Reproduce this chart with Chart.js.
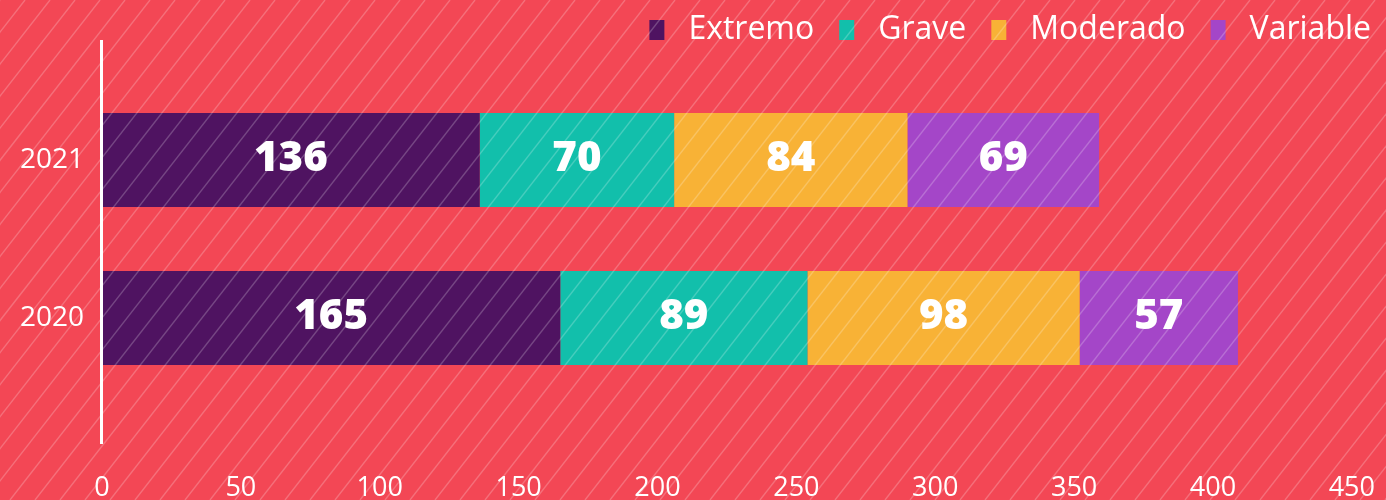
<!DOCTYPE html>
<html>
<head>
<meta charset="utf-8">
<script src="https://cdn.jsdelivr.net/npm/chart.js@4"></script>
<style>
  html, body { margin: 0; padding: 0; background: #f34755; }
  #wrap { width: 1386px; height: 500px; }
</style>
</head>
<body>
<div id="wrap"><canvas id="chart"></canvas></div>
<script>
var years = ['2021', '2020'];
var extremo = [136, 165];
var grave = [70, 89];
var moderado = [84, 98];
var variable = [69, 57];
var seriesNames = ['Extremo', 'Grave', 'Moderado', 'Variable'];
var seriesColors = ['#4f1361', '#12bfab', '#f8b236', '#a446c8'];
var xTicks = [0, 50, 100, 150, 200, 250, 300, 350, 400, 450];

var FONT = "'Open Sans', 'Noto Sans', sans-serif";
var BG = '#f34755';

// red background behind everything
var backgroundPlugin = {
    id: 'bg',
    beforeDraw: function (chart) {
        var ctx = chart.ctx;
        ctx.save();
        ctx.fillStyle = BG;
        ctx.fillRect(0, 0, chart.width, chart.height);
        ctx.restore();
    }
};

// white value labels in the middle of every bar piece
var valueLabels = {
    id: 'valueLabels',
    afterDatasetsDraw: function (chart) {
        var ctx = chart.ctx;
        ctx.save();
        ctx.fillStyle = '#ffffff';
        ctx.font = '800 42px ' + FONT;
        ctx.textAlign = 'center';
        ctx.textBaseline = 'middle';
        chart.data.datasets.forEach(function (ds, di) {
            var meta = chart.getDatasetMeta(di);
            meta.data.forEach(function (bar, i) {
                var cx = (bar.x + bar.base) / 2;
                ctx.fillText(String(ds.data[i]), cx, bar.y - 1);
            });
        });
        ctx.restore();
    }
};

// white vertical axis line, longer than the plot area
var axisLine = {
    id: 'axisLine',
    afterDatasetsDraw: function (chart) {
        var ctx = chart.ctx;
        var x0 = chart.scales.x.getPixelForValue(0);
        ctx.save();
        ctx.strokeStyle = '#ffffff';
        ctx.lineWidth = 3;
        ctx.beginPath();
        ctx.moveTo(x0 - 0.5, chart.chartArea.top - 41);
        ctx.lineTo(x0 - 0.5, chart.chartArea.bottom + 47);
        ctx.stroke();
        ctx.restore();
    }
};

// diagonal light stripes over the whole picture
var stripes = {
    id: 'stripes',
    afterDraw: function (chart) {
        var ctx = chart.ctx;
        var w = chart.width, h = chart.height;
        var step = 25, slope = 0.78;
        ctx.save();
        ctx.strokeStyle = 'rgba(255,255,255,0.22)';
        ctx.lineWidth = 1.4;
        for (var x = -h * slope; x < w + step; x += step) {
            ctx.beginPath();
            ctx.moveTo(x, h);
            ctx.lineTo(x + h * slope, 0);
            ctx.stroke();
        }
        ctx.restore();
    }
};

var ctx = document.getElementById('chart').getContext('2d');
var datasetsData = [extremo, grave, moderado, variable];

var chart = new Chart(ctx, {
    type: 'bar',
    data: {
        labels: years,
        datasets: seriesNames.map(function (name, i) {
            return {
                label: name,
                data: datasetsData[i],
                backgroundColor: seriesColors[i],
                borderWidth: 0,
                categoryPercentage: 1,
                barPercentage: 0.595
            };
        })
    },
    options: {
        indexAxis: 'y',
        responsive: true,
        maintainAspectRatio: false,
        animation: false,
        layout: { padding: { left: 0, right: -10, top: -11, bottom: 0 } },
        scales: {
            x: {
                stacked: true,
                min: 0,
                max: 450,
                afterBuildTicks: function (scale) {
                    scale.ticks = xTicks.map(function (v) { return { value: v }; });
                },
                afterFit: function (scale) { scale.height = 103; },
                grid: { display: false, drawTicks: true, tickLength: 64 },
                border: { display: false },
                ticks: {
                    color: '#ffffff',
                    font: { family: FONT, size: 27 },
                    padding: 11,
                    maxRotation: 0,
                    autoSkip: false
                }
            },
            // empty band between the legend and the bars
            gap: {
                type: 'linear',
                position: 'top',
                afterFit: function (scale) { scale.height = 25; },
                grid: { display: false, drawTicks: false },
                border: { display: false },
                ticks: { display: false }
            },
            y: {
                stacked: true,
                afterFit: function (scale) { scale.width = 102; },
                grid: { display: false, drawTicks: false },
                border: { display: false },
                ticks: {
                    color: '#ffffff',
                    font: { family: FONT, size: 28 },
                    padding: 18
                }
            }
        },
        plugins: {
            legend: {
                position: 'top',
                align: 'end',
                labels: {
                    color: '#ffffff',
                    font: { family: FONT, size: 32 },
                    boxWidth: 15,
                    boxHeight: 20,
                    padding: 25,
                    generateLabels: function (chart) {
                        var items = Chart.defaults.plugins.legend.labels.generateLabels(chart);
                        items.forEach(function (it) { it.text = '\u2005' + it.text; });
                        return items;
                    }
                }
            },
            tooltip: { enabled: false }
        }
    },
    plugins: [backgroundPlugin, valueLabels, axisLine, stripes]
});
</script>
</body>
</html>
